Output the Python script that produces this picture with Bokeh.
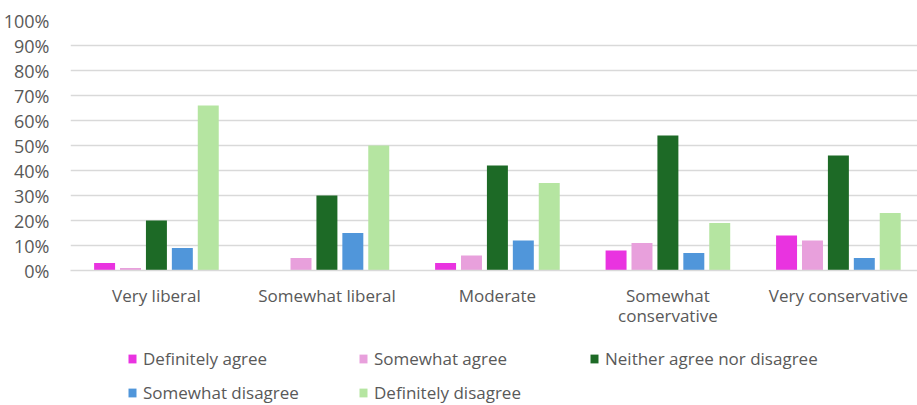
import numpy as np
from bokeh.plotting import figure
from bokeh.layouts import column
from bokeh.models import ColumnDataSource, Range1d, FixedTicker, Legend, LegendItem, NumeralTickFormatter
from bokeh.transform import dodge
from bokeh.embed import file_html
from bokeh.resources import INLINE

categories = ["Very liberal", "Somewhat liberal", "Moderate", "Somewhat\nconservative", "Very conservative"]
series_names = ["Definitely agree", "Somewhat agree", "Neither agree nor disagree",
                "Somewhat disagree", "Definitely disagree"]
definitely_agree = [3, 0, 3, 8, 14]
somewhat_agree = [1, 5, 6, 11, 12]
neither = [20, 30, 42, 54, 46]
somewhat_disagree = [9, 15, 12, 7, 5]
definitely_disagree = [66, 50, 35, 19, 23]
y_ticks = [0, 10, 20, 30, 40, 50, 60, 70, 80, 90, 100]

series_values = [definitely_agree, somewhat_agree, neither, somewhat_disagree, definitely_disagree]
colors = ["#e933e0", "#e8a0dc", "#1d6a26", "#5096da", "#b5e5a1"]

FONT = "Open Sans"
TXT = "#595959"
FS = "17px"

data = {"x": np.arange(len(categories)) + 0.5}
for i, vals in enumerate(series_values):
    data[f"s{i}"] = [v / 100 for v in vals]
source = ColumnDataSource(data)

p = figure(width=917, height=345, output_backend="svg", toolbar_location=None,
           x_range=Range1d(-0.004, 4.964), y_range=Range1d(0, 1.0),
           min_border_left=70, min_border_right=0, min_border_top=20, min_border_bottom=75)
p.outline_line_color = None

pitch = 0.152
for i, name in enumerate(series_names):
    p.vbar(x=dodge("x", (i - 2) * pitch), top=f"s{i}", width=0.123, source=source,
           fill_color=colors[i], line_color=None)

p.xgrid.grid_line_color = None
p.ygrid.grid_line_color = "#d9d9d9"
p.ygrid.grid_line_width = 1.5

p.yaxis.ticker = FixedTicker(ticks=[t / 100 for t in y_ticks])
p.yaxis.formatter = NumeralTickFormatter(format="0%")
p.yaxis.axis_line_color = None
p.yaxis.major_tick_line_color = None
p.yaxis.minor_tick_line_color = None
p.yaxis.major_label_standoff = 15
p.yaxis.major_label_text_font = FONT
p.yaxis.major_label_text_font_size = "18px"
p.yaxis.major_label_text_color = TXT

p.xaxis.ticker = FixedTicker(ticks=list(data["x"]))
p.xaxis.major_label_overrides = {float(x): c for x, c in zip(data["x"], categories)}
p.xaxis.axis_line_color = "#d9d9d9"
p.xaxis.axis_line_width = 1.5
p.xaxis.major_tick_line_color = None
p.xaxis.minor_tick_line_color = None
p.xaxis.major_label_standoff = 7
p.xaxis.major_label_text_font = FONT
p.xaxis.major_label_text_font_size = FS
p.xaxis.major_label_text_color = TXT
p.xaxis.major_label_text_line_height = 0.9

# legend strip
p2 = figure(width=917, height=60, output_backend="svg", toolbar_location=None,
            x_range=Range1d(0, 1), y_range=Range1d(0, 1),
            x_axis_location=None, y_axis_location=None,
            min_border_left=0, min_border_right=0, min_border_top=0, min_border_bottom=0)
p2.outline_line_color = None
p2.xgrid.grid_line_color = None
p2.ygrid.grid_line_color = None
items = []
for i, name in enumerate(series_names):
    r = p2.vbar(x="x", top=f"s{i}", width=0.1, source=source, fill_color=colors[i],
                line_color=None, visible=False)
    items.append(LegendItem(label=name, renderers=[r]))

legend = Legend(items=items, orientation="horizontal", ncols=3,
                location=(57, 1), glyph_width=10, glyph_height=11,
                label_standoff=6, label_width=205, label_height=24, spacing=10,
                padding=0, margin=0, border_line_color=None, background_fill_alpha=0,
                label_text_font=FONT, label_text_font_size=FS, label_text_color=TXT)
p2.add_layout(legend, "center")

layout = column(p, p2, spacing=0)
open("out.html", "w").write(file_html(layout, INLINE))
